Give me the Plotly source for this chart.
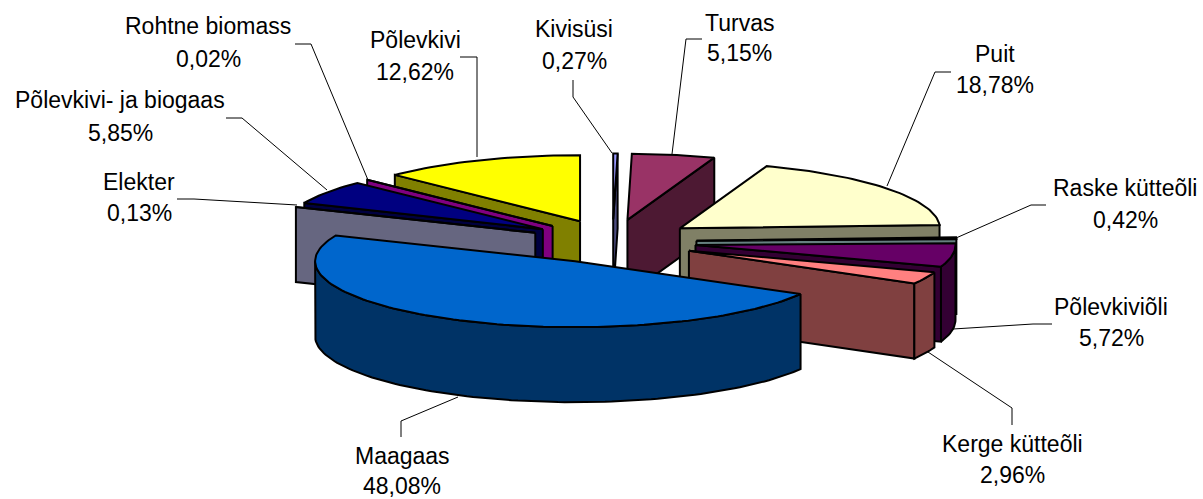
import math
import plotly.graph_objects as go

categories = ["Kivisüsi", "Turvas", "Puit", "Raske kütteõli", "Põlevkiviõli", "Kerge kütteõli",
              "Maagaas", "Elekter", "Põlevkivi- ja biogaas", "Rohtne biomass", "Põlevkivi"]
shares = [0.27, 5.15, 18.78, 0.42, 5.72, 2.96, 48.08, 0.13, 5.85, 0.02, 12.62]
top_colors = ["#9999FF", "#993366", "#FFFFCC", "#CCFFFF", "#660066", "#FF8080",
              "#0066CC", "#CCCCFF", "#000080", "#800080", "#FFFF00"]
wall_colors = ["#4D4D80", "#4D1933", "#808066", "#668080", "#330033", "#804040",
               "#003366", "#666680", "#000040", "#800080", "#808000"]

# projection of the exploded pie on the page
CX, CY = 612.5, 241.5
RX, RY = 260.0, 66.0
EX, EY = 84.0, 22.0
DEPTH = 75.0

# label centres and leader elbows (page pixels)
label_pos = {
    "Kivisüsi": (574, 29, 61, [(573, 80), (573, 97), (612, 153)]),
    "Turvas": (739, 23, 53, [(702, 39), (686, 39), (672, 154)]),
    "Puit": (995, 54, 85, [(951, 72), (935, 72), (887, 186)]),
    "Raske kütteõli": (1125, 188, 220, [(1046, 205), (1031, 205), (956, 238)]),
    "Põlevkiviõli": (1111, 307, 338, [(1052, 324), (1033, 324), (953, 329)]),
    "Kerge kütteõli": (1012, 444, 475, [(1012, 425), (1012, 408), (928, 352)]),
    "Maagaas": (402, 456, 486, [(401, 437), (401, 421), (458, 397)]),
    "Elekter": (139, 182, 213, [(177, 199), (194, 199), (297, 205)]),
    "Põlevkivi- ja biogaas": (120, 100, 133, [(226, 118), (242, 118), (327, 190)]),
    "Rohtne biomass": (208, 26, 59, [(295, 44), (311, 44), (368, 180)]),
    "Põlevkivi": (415, 40, 72, [(460, 57), (477, 57), (477, 157)]),
}

total = sum(shares)
slices = {}
acc = 0.0
for name, v, tc, wc in zip(categories, shares, top_colors, wall_colors):
    a0 = acc / total * 360
    acc += v
    a1 = acc / total * 360
    mid = math.radians((a0 + a1) / 2)
    ax = CX + EX * math.sin(mid)
    ay = CY - EY * math.cos(mid)
    slices[name] = dict(a0=a0, a1=a1, mid=mid, ax=ax, ay=ay, tc=tc, wc=wc)


def rim(s, deg):
    t = math.radians(deg)
    return s["ax"] + RX * math.sin(t), s["ay"] - RY * math.cos(t)


def arc(s, d0, d1):
    n = max(2, int(abs(d1 - d0) / 1.5) + 2)
    return [rim(s, d0 + (d1 - d0) * i / (n - 1)) for i in range(n)]


fig = go.Figure()


def poly(points, fill):
    xs = [p[0] for p in points] + [points[0][0]]
    ys = [p[1] for p in points] + [points[0][1]]
    fig.add_trace(go.Scatter(x=xs, y=ys, mode="lines", fill="toself", fillcolor=fill,
                             line=dict(color="black", width=2), hoverinfo="skip",
                             showlegend=False))


def radius_wall_visible(s, deg):
    rx, ry = rim(s, deg)
    ix = s["ax"] + 0.5 * RX * math.sin(s["mid"])
    iy = s["ay"] - 0.5 * RY * math.cos(s["mid"])
    dx = rx - s["ax"]
    if abs(dx) < 1e-6:
        return False
    yline = s["ay"] + (ry - s["ay"]) * (ix - s["ax"]) / dx
    return iy < yline


draw_order = ["Põlevkivi", "Rohtne biomass", "Põlevkivi- ja biogaas", "Elekter", "Kivisüsi", "Turvas",
              "Puit", "Raske kütteõli", "Põlevkiviõli", "Kerge kütteõli", "Maagaas"]
for name in draw_order:
    s = slices[name]
    apex = (s["ax"], s["ay"])
    for deg in (s["a0"], s["a1"]):
        if radius_wall_visible(s, deg):
            r = rim(s, deg)
            poly([apex, r, (r[0], r[1] + DEPTH), (apex[0], apex[1] + DEPTH)], s["wc"])
    lo, hi = max(s["a0"], 90), min(s["a1"], 270)
    if hi > lo:
        top = arc(s, lo, hi)
        poly(top + [(x, y + DEPTH) for x, y in reversed(top)], s["wc"])
    poly([apex] + arc(s, s["a0"], s["a1"]), s["tc"])

annotations = []
for name, v in zip(categories, shares):
    cx, y1, y2, leader = label_pos[name]
    fig.add_trace(go.Scatter(x=[p[0] for p in leader], y=[p[1] for p in leader], mode="lines",
                             line=dict(color="black", width=1), hoverinfo="skip", showlegend=False))
    for txt, y in ((name, y1), (f"{v:.2f}".replace(".", ",") + "%", y2)):
        annotations.append(dict(x=cx, y=y, xref="x", yref="y", text=txt, showarrow=False,
                                xanchor="center", yanchor="middle",
                                font=dict(family="Liberation Sans", size=23, color="black")))

fig.update_layout(width=1203, height=499, margin=dict(l=0, r=0, t=0, b=0),
                  paper_bgcolor="white", plot_bgcolor="white", showlegend=False,
                  xaxis=dict(range=[0, 1203], visible=False, fixedrange=True),
                  yaxis=dict(range=[499, 0], visible=False, fixedrange=True),
                  annotations=annotations)
fig.write_html("out.html", post_script="document.body.style.margin='0';",
               config=dict(displayModeBar=False))
